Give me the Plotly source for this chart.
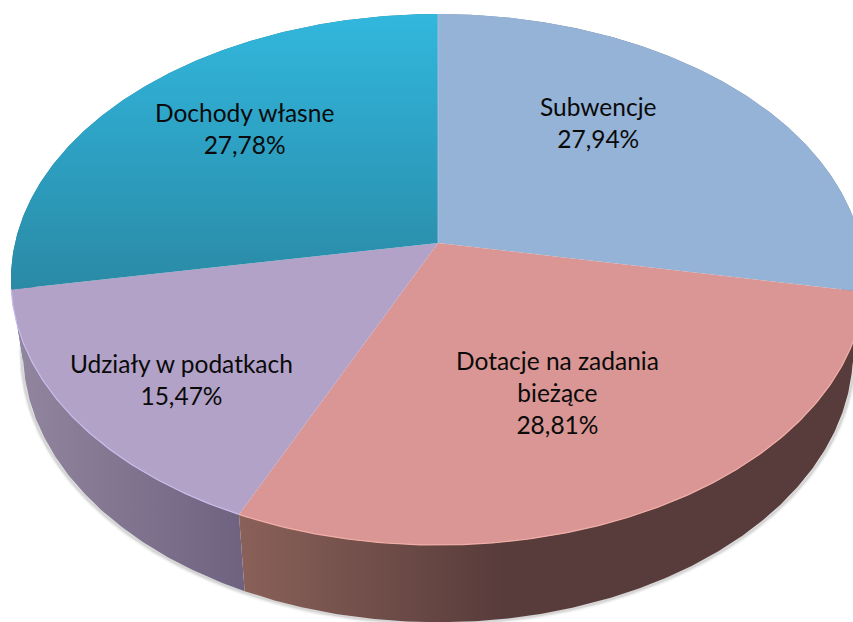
import numpy as np
import plotly.graph_objects as go

categories = ["Subwencje", "Dotacje na zadania<br>bieżące", "Udziały w podatkach", "Dochody własne"]
shares = [27.94, 28.81, 15.47, 27.78]

top_fill = ["#95b3d7", "#d99694", "#b2a2c7", None]
edge_light = ["rgba(0,0,0,0)", "#f2aea6", "#cabcec", "rgba(0,0,0,0)"]
wall_stops = [
    [[0, "#6c7f97"], [1, "#6c7f97"]],
    [[0, "#8a6159"], [0.42, "#583c3b"], [1, "#583c3b"]],
    [[0, "#93869f"], [1, "#6f6280"]],
    [[0, "#2a7f99"], [1, "#2a7f99"]],
]
dochody_grad = [[0, "#2a8aa5"], [0.5, "#2da0c2"], [1, "#32b7dd"]]
label_xy = [(598, 122.5), (557, 392), (181, 379), (244, 128.5)]

# perspective projection of the pie disc (canvas pixels)
CX = 438
K = 0.1375
TOP = dict(rx=423, ry=260.5, cy=243)
BOTTOM = dict(rx=411, ry=265, cy=315)


def proj(theta_deg, plane, r=1.0):
    t = np.radians(theta_deg)
    u, v = r * np.sin(t), r * np.cos(t)
    d = 1 + K * v
    return CX + plane["rx"] * u / d, plane["cy"] - plane["ry"] * v / d


def arc(a, b, plane):
    n = max(int(abs(b - a) * 2), 2)
    return proj(np.linspace(a, b, n), plane)


cum = np.concatenate([[0], np.cumsum(shares)]) / sum(shares) * 360
fig = go.Figure()

# soft shadow under the rim
for w, alpha, dy in [(6, 0.04, 1.5), (4, 0.06, 1.2), (2.5, 0.10, 0.8)]:
    x, y = arc(97, 272, BOTTOM)
    fig.add_trace(go.Scatter(x=x + 1.5 * (x < CX) * -1 + 1.5 * (x > CX), y=y + dy, mode="lines",
                             line=dict(color=f"rgba(40,40,40,{alpha})", width=w),
                             hoverinfo="skip", showlegend=False))

# side walls, drawn from the back round to the front
for i in [3, 0, 2, 1]:
    a, b = cum[i], cum[i + 1]
    xt, yt = arc(a, b, TOP)
    xb, yb = arc(a, b, BOTTOM)
    fig.add_trace(go.Scatter(
        x=np.r_[xt, xb[::-1], xt[0]], y=np.r_[yt, yb[::-1], yt[0]],
        mode="lines", line=dict(width=0), fill="toself",
        fillgradient=dict(type="horizontal", colorscale=wall_stops[i]),
        hoverinfo="skip", showlegend=False))

# top faces
for i in range(4):
    a, b = cum[i], cum[i + 1]
    xt, yt = arc(a, b, TOP)
    ax, ay = proj(np.array([0.0]), dict(TOP), r=0.0)
    x = np.r_[ax, xt, ax]
    y = np.r_[ay, yt, ay]
    kw = dict(fillcolor=top_fill[i]) if top_fill[i] else dict(
        fillgradient=dict(type="vertical", colorscale=dochody_grad))
    fig.add_trace(go.Scatter(x=x, y=y, mode="lines", line=dict(width=0), fill="toself",
                             hoverinfo="skip", showlegend=False, **kw))
    fig.add_trace(go.Scatter(x=xt, y=yt, mode="lines",
                             line=dict(color=edge_light[i], width=1.2),
                             hoverinfo="skip", showlegend=False))

# faint seam between the two back slices
sx, sy = proj(np.array([0.0, 0.0]), TOP, r=np.array([0.0, 1.0]))
fig.add_trace(go.Scatter(x=sx, y=sy, mode="lines",
                         line=dict(color="rgba(170,195,225,0.8)", width=1),
                         hoverinfo="skip", showlegend=False))

for name, val, (lx, ly) in zip(categories, shares, label_xy):
    fig.add_annotation(x=lx, y=ly, xref="x", yref="y", showarrow=False, align="center",
                       text=f"{name}<br>{val:.2f}".replace(".", ",") + "%",
                       font=dict(family="Lato", size=24.5, color="#0a0a0a"))

fig.update_layout(
    width=853, height=622, margin=dict(l=0, r=0, t=0, b=0),
    paper_bgcolor="white", plot_bgcolor="white", showlegend=False,
    xaxis=dict(range=[0, 853], visible=False, fixedrange=True),
    yaxis=dict(range=[622, 0], visible=False, fixedrange=True),
)
fig.write_html("out.html", post_script="document.body.style.margin='0';",
               config=dict(displayModeBar=False))
